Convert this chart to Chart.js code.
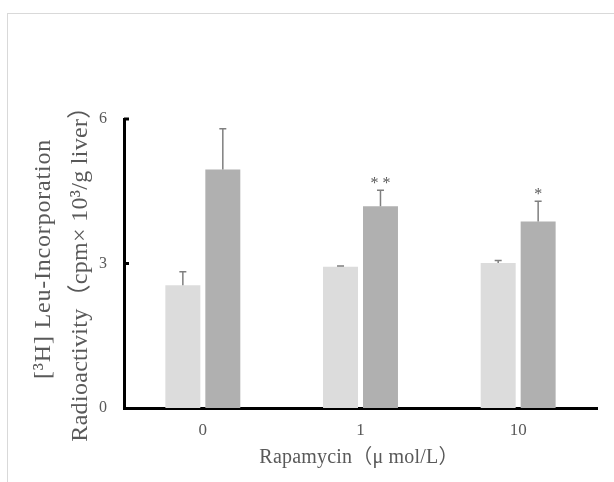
<!DOCTYPE html>
<html lang="ja">
<head>
<meta charset="utf-8">
<script src="https://cdn.jsdelivr.net/npm/chart.js@4"></script>
<style>
  html, body { margin: 0; padding: 0; background: #fff; }
  #moldura { position: absolute; left: 7px; top: 13px; right: 0; bottom: 0;
             border-left: 1px solid #d9d9d9; border-top: 1px solid #d9d9d9; }
  #grafico { position: absolute; left: 0; top: 0; }
</style>
</head>
<body>
<div id="moldura"></div>
<canvas id="grafico" width="614" height="482"></canvas>
<script>
const CATEGORIAS    = ['0', '1', '10'];
const CONTROLE      = [2.55, 2.93, 3.01];
const CONTROLE_EP   = [0.28, 0.02, 0.05];
const TRATADO       = [4.95, 4.19, 3.87];
const TRATADO_EP    = [0.85, 0.33, 0.42];
const SIGNIFICANCIA = ['', '* *', '*'];
const TICKS_Y       = [0, 3, 6];
const TITULO_X      = 'Rapamycin（μ mol/L）';
const TITULO_Y      = ['[³H] Leu-Incorporation', 'Radioactivity（cpm× 10³/g liver）'];

const COR_TEXTO = '#595959';
const FONTE     = '"Liberation Serif", "Noto Sans CJK JP", serif';

// barras de erro + asteriscos de significancia
const barrasErro = {
  id: 'barrasErro',
  afterDatasetsDraw(chart) {
    const { ctx, scales: { y } } = chart;
    ctx.save();
    ctx.strokeStyle = '#7f7f7f';
    ctx.lineWidth = 1.5;
    chart.data.datasets.forEach((ds, i) => {
      chart.getDatasetMeta(i).data.forEach((barra, j) => {
        const topo = y.getPixelForValue(ds.data[j] + ds.erro[j]);
        ctx.beginPath();
        ctx.moveTo(barra.x, barra.y);
        ctx.lineTo(barra.x, topo);
        ctx.moveTo(barra.x - 3.5, topo);
        ctx.lineTo(barra.x + 3.5, topo);
        ctx.stroke();
        if (i === 1 && SIGNIFICANCIA[j]) {
          ctx.fillStyle = COR_TEXTO;
          ctx.font = `16px ${FONTE}`;
          ctx.textAlign = 'center';
          ctx.textBaseline = 'alphabetic';
          ctx.fillText(SIGNIFICANCIA[j], barra.x, topo - 2);
        }
      });
    });
    ctx.restore();
  }
};

// marcas do eixo y voltadas para dentro
const marcasY = {
  id: 'marcasY',
  afterDraw(chart) {
    const { ctx, chartArea, scales: { y } } = chart;
    ctx.save();
    ctx.strokeStyle = '#000';
    ctx.lineWidth = 3;
    TICKS_Y.filter(v => v > 0).forEach(v => {
      const py = y.getPixelForValue(v);
      ctx.beginPath();
      ctx.moveTo(chartArea.left, py);
      ctx.lineTo(chartArea.left + 5, py);
      ctx.stroke();
    });
    ctx.restore();
  }
};

const titulos = {
  id: 'titulos',
  afterDraw(chart) {
    const c = chart.ctx;
    c.save();
    c.fillStyle = COR_TEXTO;
    c.textAlign = 'center';
    c.textBaseline = 'middle';
    c.font = `20px ${FONTE}`;
    c.letterSpacing = '0.2px';
    c.fillText(TITULO_X, 359, 458);

    c.font = `24px ${FONTE}`;
    c.letterSpacing = '0.8px';
    c.save();
    c.translate(44, 259);
    c.rotate(-Math.PI / 2);
    c.fillText(TITULO_Y[0], 0, 0);
    c.restore();
    c.letterSpacing = '0.3px';
    c.save();
    c.translate(81, 268);
    c.rotate(-Math.PI / 2);
    c.fillText(TITULO_Y[1], 0, 0);
    c.restore();
    c.restore();
  }
};

const ctx = document.getElementById('grafico').getContext('2d');
new Chart(ctx, {
  type: 'bar',
  data: {
    labels: CATEGORIAS,
    datasets: [
      {
        label: 'Controle',
        data: CONTROLE,
        erro: CONTROLE_EP,
        backgroundColor: '#dcdcdc',
        borderWidth: 0,
        categoryPercentage: 0.507,
        barPercentage: 0.875,
      },
      {
        label: 'Rapamycin',
        data: TRATADO,
        erro: TRATADO_EP,
        backgroundColor: '#b0b0b0',
        borderWidth: 0,
        categoryPercentage: 0.507,
        barPercentage: 0.875,
      }
    ]
  },
  options: {
    responsive: false,
    animation: false,
    layout: { padding: { top: 119, right: 17, bottom: 0, left: 0 } },
    plugins: {
      legend: { display: false },
      tooltip: { enabled: false }
    },
    scales: {
      x: {
        grid: { display: false, drawTicks: false },
        border: { display: true, color: '#000', width: 3 },
        ticks: { color: COR_TEXTO, font: { family: FONTE, size: 17 }, padding: 12 },
        afterFit(escala) { escala.height = 74; }
      },
      y: {
        min: 0,
        max: 6,
        afterBuildTicks(escala) { escala.ticks = TICKS_Y.map(v => ({ value: v })); },
        grid: { display: false, drawTicks: false },
        border: { display: true, color: '#000', width: 3 },
        ticks: { color: COR_TEXTO, font: { family: FONTE, size: 16 }, padding: 17 },
        afterFit(escala) { escala.width = 124; }
      }
    }
  },
  plugins: [barrasErro, marcasY, titulos]
});
</script>
</body>
</html>
